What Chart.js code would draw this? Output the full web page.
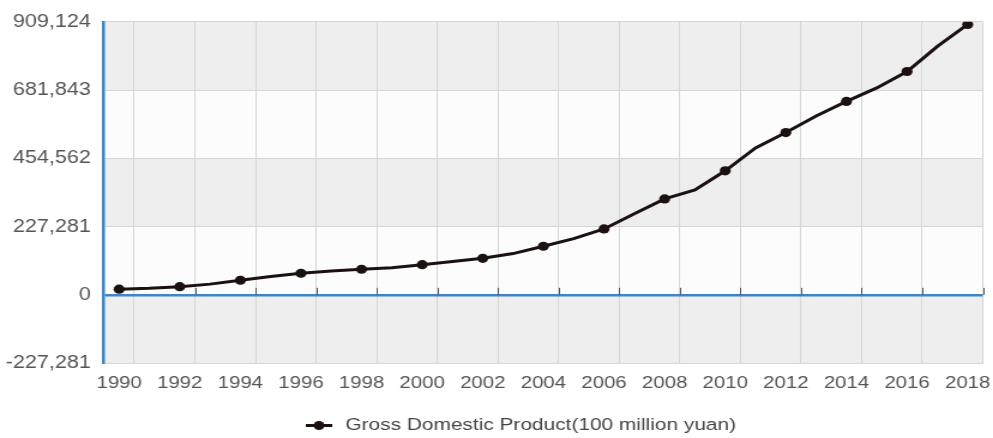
<!DOCTYPE html>
<html>
<head>
<meta charset="utf-8">
<script src="https://cdn.jsdelivr.net/npm/chart.js@4.4.0/dist/chart.umd.min.js"></script>
<style>
  html, body { margin: 0; padding: 0; background: #fff; overflow: hidden; }
  /* the chart is laid out narrower and stretched sideways */
  #wrap { width: 828px; height: 438px; transform: scaleX(1.1993); transform-origin: 0 0; }
</style>
</head>
<body>
<div id="wrap"><canvas id="gdpChart"></canvas></div>
<script>
const years = ['1990','1991','1992','1993','1994','1995','1996','1997','1998','1999',
  '2000','2001','2002','2003','2004','2005','2006','2007','2008','2009',
  '2010','2011','2012','2013','2014','2015','2016','2017','2018'];
const gdp = [18872.9, 22005.6, 27194.5, 35673.2, 48637.5, 61339.9, 71813.6, 79715.0, 85195.5, 90564.4,
  100280.1, 110863.1, 121717.4, 137422.0, 161840.2, 187318.9, 219438.5, 270232.3, 319515.5, 349081.4,
  413030.3, 489300.6, 540367.4, 595244.4, 643974.0, 689052.1, 743585.5, 827121.7, 900309.5];
const yTicks = [-227281, 0, 227281, 454562, 681843, 909124];
const seriesName = 'Gross Domestic Product(100 million yuan)';

const FONT = "'Liberation Sans', Arial, sans-serif";
const LINE = '#1b1111';
const BLUE = '#3d85c6';

// alternating grey / white bands between y ticks
const bands = {
  id: 'bands',
  beforeDraw(chart) {
    const {ctx, chartArea: a, scales: {y}} = chart;
    ctx.save();
    for (let i = 0; i < yTicks.length - 1; i++) {
      const top = y.getPixelForValue(yTicks[i + 1]);
      const bot = y.getPixelForValue(yTicks[i]);
      ctx.fillStyle = i % 2 === 0 ? '#eeeeee' : '#fcfcfc';
      ctx.fillRect(a.left, top, a.right - a.left, bot - top);
    }
    ctx.restore();
  }
};

// little tick marks standing on the zero line
const zeroTicks = {
  id: 'zeroTicks',
  beforeDatasetsDraw(chart) {
    const {ctx, scales: {x, y}} = chart;
    const y0 = y.getPixelForValue(0);
    ctx.save();
    ctx.strokeStyle = '#555';
    ctx.lineWidth = 1;
    for (let i = 3; i <= years.length; i += 2) {
      const px = Math.round(x.getPixelForValue(i - 0.5)) + 0.5;
      ctx.beginPath();
      ctx.moveTo(px, y0);
      ctx.lineTo(px, y0 - 7);
      ctx.stroke();
    }
    ctx.restore();
  }
};

// legend: -●- followed by the series name
const legendLine = {
  id: 'legendLine',
  afterDraw(chart) {
    const ctx = chart.ctx;
    const cy = 425.5;
    const x0 = 255;
    ctx.save();
    ctx.strokeStyle = LINE;
    ctx.fillStyle = LINE;
    ctx.lineWidth = 3;
    ctx.beginPath();
    ctx.moveTo(x0, cy); ctx.lineTo(x0 + 7, cy);
    ctx.moveTo(x0 + 15, cy); ctx.lineTo(x0 + 22, cy);
    ctx.stroke();
    ctx.beginPath();
    ctx.arc(x0 + 11, cy, 4.5, 0, Math.PI * 2);
    ctx.fill();
    ctx.fillStyle = '#444';
    ctx.font = '17.4px ' + FONT;
    ctx.textBaseline = 'middle';
    ctx.fillText(chart.data.datasets[0].label, x0 + 33, cy);
    ctx.restore();
  }
};

new Chart(document.getElementById('gdpChart'), {
  type: 'line',
  data: {
    labels: years,
    datasets: [{
      label: seriesName,
      data: gdp,
      borderColor: LINE,
      backgroundColor: LINE,
      borderWidth: 3,
      tension: 0,
      pointRadius: c => c.dataIndex % 2 === 0 ? 4.6 : 0,
      pointHoverRadius: c => c.dataIndex % 2 === 0 ? 4.6 : 0,
      pointBorderWidth: 0
    }]
  },
  options: {
    responsive: true,
    maintainAspectRatio: false,
    animation: false,
    layout: { padding: { top: 19, right: 8.5, bottom: 34.5, left: 0 } },
    plugins: {
      legend: { display: false },
      tooltip: { enabled: false }
    },
    scales: {
      x: {
        offset: true,
        afterFit: s => { s.paddingLeft = 0; s.paddingRight = 0; },
        grid: {
          offset: true,
          drawTicks: false,
          color: c => (c.index === undefined || c.index % 2 === 1) ? '#d6d6d6' : 'rgba(0,0,0,0)',
          lineWidth: 1
        },
        border: { color: '#d6d6d6', width: 1 },
        ticks: {
          autoSkip: false,
          maxRotation: 0,
          padding: 10,
          color: '#555',
          font: { family: FONT, size: 17 },
          callback: function (v, i) { return i % 2 === 0 ? this.getLabelForValue(v) : ''; }
        }
      },
      y: {
        min: yTicks[0],
        max: yTicks[yTicks.length - 1],
        afterBuildTicks: s => { s.ticks = yTicks.map(v => ({ value: v })); },
        afterFit: s => { s.width = 86.7; },
        grid: {
          drawTicks: false,
          color: c => c.tick && c.tick.value === 0 ? BLUE : '#d6d6d6',
          lineWidth: c => c.tick && c.tick.value === 0 ? 2.5 : 1
        },
        border: { color: BLUE, width: 2.5 },
        ticks: {
          padding: 11,
          color: '#555',
          font: { family: FONT, size: 18 },
          callback: v => v.toLocaleString('en-US')
        }
      }
    }
  },
  plugins: [bands, zeroTicks, legendLine]
});
</script>
</body>
</html>
